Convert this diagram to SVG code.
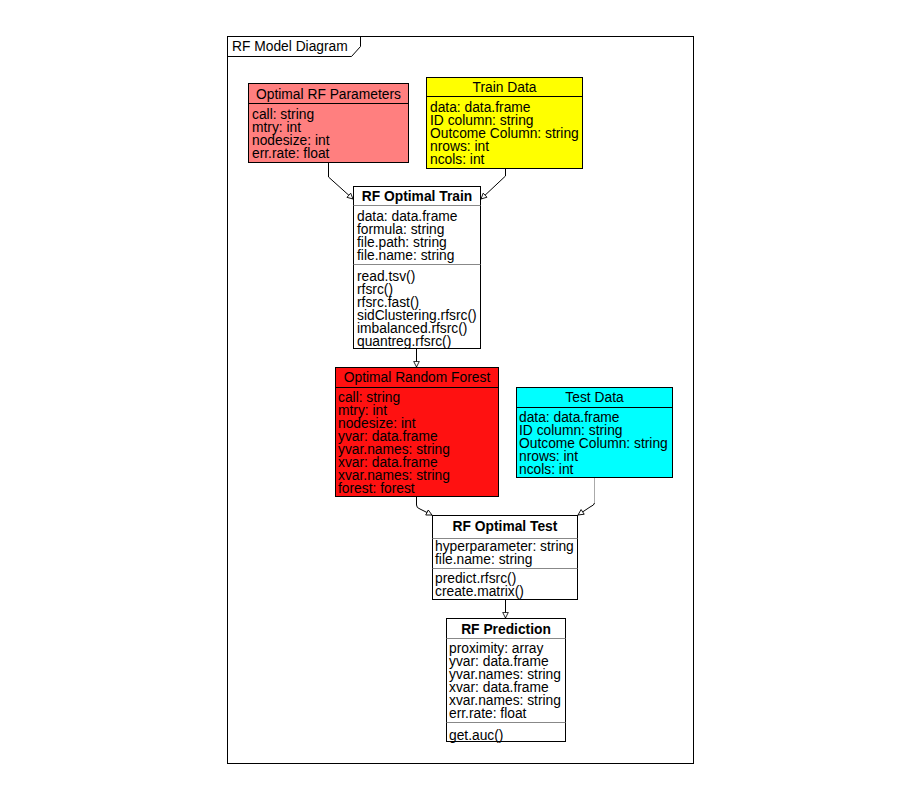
<svg xmlns="http://www.w3.org/2000/svg" width="918" height="797" viewBox="0 0 918 797">
<style>
text{font-family:"Liberation Sans",Arial,sans-serif;font-size:13.8px;fill:#000}
.t{text-anchor:middle}
.b{font-weight:bold}
.box{stroke:#000;stroke-width:1}
.sep{stroke:#000;stroke-width:1}
.sepg{stroke:#888;stroke-width:1}
.c{fill:none;stroke:#000;stroke-width:1}
</style>
<defs>
<marker id="ah" viewBox="0 0 10 10" refX="9" refY="5" markerWidth="7" markerHeight="7" orient="auto" markerUnits="userSpaceOnUse">
<path d="M1,1 L9,5 L1,9 Z" fill="#fff" stroke="#000" stroke-width="1.2"/>
</marker>
</defs>
<rect width="918" height="797" fill="#fff"/>
<g id="frame">
<rect x="227.5" y="36.5" width="466" height="727" fill="none" stroke="#000"/>
<path d="M227.5,56.5 H351.5 L360.5,46.5 V36.5" fill="none" stroke="#000"/>
<text x="232" y="51">RF Model Diagram</text>
</g>
<g id="connectors">
<path class="c" d="M328.5,162 V177 L353,199" marker-end="url(#ah)"/>
<path class="c" d="M505.5,168 V176 L481,199" marker-end="url(#ah)"/>
<path class="c" d="M416.5,349 V367" marker-end="url(#ah)"/>
<path class="c" d="M416.5,497 V505 Q416.5,508 420,509 L432,515" marker-end="url(#ah)"/>
<path class="c" d="M594.5,478 V503" stroke="#aaa" style="stroke:#aaa"/>
<path class="c" d="M594.5,503 Q594.5,505 590,507 L578,515" marker-end="url(#ah)"/>
<path class="c" d="M505.5,600 V618" marker-end="url(#ah)"/>
</g>
<g id="optimal-rf-parameters">
<rect class="box" x="248.5" y="83.5" width="160" height="79" fill="#FF7F7F"/>
<line class="sep" x1="248.5" y1="103.5" x2="408.5" y2="103.5"/>
<text class="t" x="328.5" y="99">Optimal RF Parameters</text>
<text x="252" y="119">call: string</text>
<text x="252" y="132">mtry: int</text>
<text x="252" y="145">nodesize: int</text>
<text x="252" y="158">err.rate: float</text>
</g>
<g id="train-data">
<rect class="box" x="426.5" y="77.5" width="156" height="91" fill="#FFFF00"/>
<line class="sep" x1="426.5" y1="96.5" x2="582.5" y2="96.5"/>
<text class="t" x="504.5" y="92">Train Data</text>
<text x="430" y="112">data: data.frame</text>
<text x="430" y="125">ID column: string</text>
<text x="430" y="138">Outcome Column: string</text>
<text x="430" y="151">nrows: int</text>
<text x="430" y="164">ncols: int</text>
</g>
<g id="rf-optimal-train">
<rect class="box" x="353.5" y="186.5" width="127" height="162" fill="#fff"/>
<line class="sepg" x1="353.5" y1="205.5" x2="480.5" y2="205.5"/>
<line class="sepg" x1="353.5" y1="264.5" x2="480.5" y2="264.5"/>
<text class="t b" x="417" y="201">RF Optimal Train</text>
<text x="357" y="221">data: data.frame</text>
<text x="357" y="234">formula: string</text>
<text x="357" y="247">file.path: string</text>
<text x="357" y="260">file.name: string</text>
<text x="357" y="281">read.tsv()</text>
<text x="357" y="294">rfsrc()</text>
<text x="357" y="307">rfsrc.fast()</text>
<text x="357" y="320">sidClustering.rfsrc()</text>
<text x="357" y="333">imbalanced.rfsrc()</text>
<text x="357" y="346">quantreg.rfsrc()</text>
</g>
<g id="optimal-random-forest">
<rect class="box" x="335.5" y="367.5" width="163" height="129" fill="#FF1111"/>
<line class="sep" x1="335.5" y1="387.5" x2="498.5" y2="387.5"/>
<text class="t" x="417" y="382">Optimal Random Forest</text>
<text x="338" y="402">call: string</text>
<text x="338" y="415">mtry: int</text>
<text x="338" y="428">nodesize: int</text>
<text x="338" y="441">yvar: data.frame</text>
<text x="338" y="454">yvar.names: string</text>
<text x="338" y="467">xvar: data.frame</text>
<text x="338" y="480">xvar.names: string</text>
<text x="338" y="493">forest: forest</text>
</g>
<g id="test-data">
<rect class="box" x="516.5" y="387.5" width="156" height="90" fill="#00FFFF"/>
<line class="sep" x1="516.5" y1="407.5" x2="672.5" y2="407.5"/>
<text class="t" x="594.5" y="402">Test Data</text>
<text x="519" y="422">data: data.frame</text>
<text x="519" y="435">ID column: string</text>
<text x="519" y="448">Outcome Column: string</text>
<text x="519" y="461">nrows: int</text>
<text x="519" y="474">ncols: int</text>
</g>
<g id="rf-optimal-test">
<rect class="box" x="432.5" y="515.5" width="145" height="84" fill="#fff"/>
<line class="sepg" x1="432.5" y1="538.5" x2="577.5" y2="538.5"/>
<line class="sepg" x1="432.5" y1="568.5" x2="577.5" y2="568.5"/>
<text class="t b" x="505" y="531">RF Optimal Test</text>
<text x="435" y="551">hyperparameter: string</text>
<text x="435" y="564">file.name: string</text>
<text x="435" y="583">predict.rfsrc()</text>
<text x="435" y="596">create.matrix()</text>
</g>
<g id="rf-prediction">
<rect class="box" x="446.5" y="618.5" width="119" height="123" fill="#fff"/>
<line class="sepg" x1="446.5" y1="638.5" x2="565.5" y2="638.5"/>
<line class="sepg" x1="446.5" y1="722.5" x2="565.5" y2="722.5"/>
<text class="t b" x="506" y="634">RF Prediction</text>
<text x="449" y="653">proximity: array</text>
<text x="449" y="666">yvar: data.frame</text>
<text x="449" y="679">yvar.names: string</text>
<text x="449" y="692">xvar: data.frame</text>
<text x="449" y="705">xvar.names: string</text>
<text x="449" y="718">err.rate: float</text>
<text x="449" y="740">get.auc()</text>
</g>
</svg>
